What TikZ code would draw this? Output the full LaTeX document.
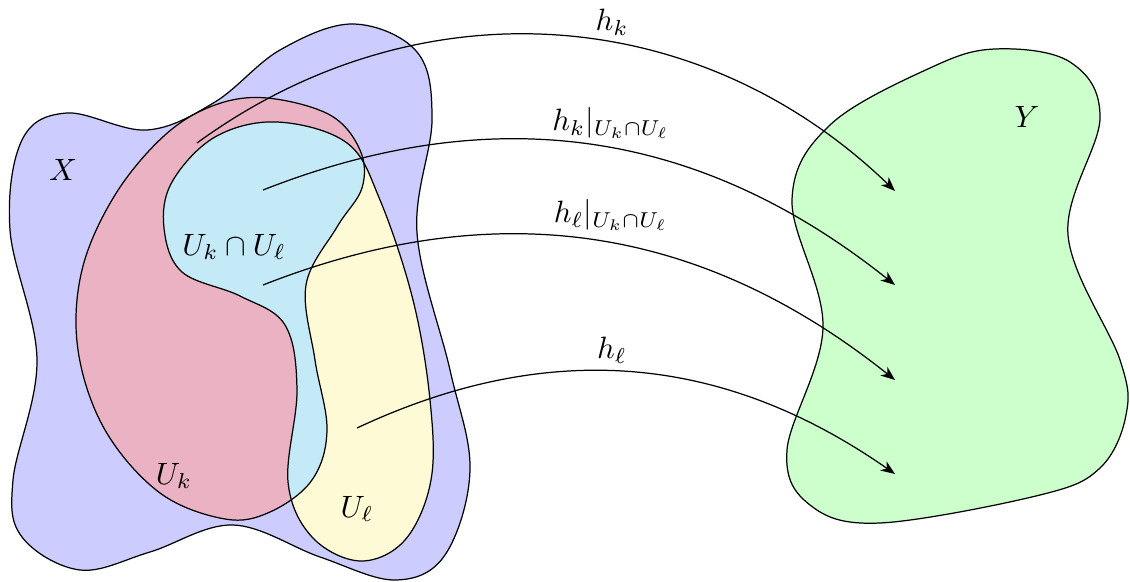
\documentclass[tikz,border=0pt]{standalone}
\usetikzlibrary{arrows.meta}
\definecolor{xblue}{RGB}{204,204,255}
\definecolor{ukpink}{RGB}{235,178,196}
\definecolor{ulyellow}{RGB}{255,250,214}
\definecolor{capcyan}{RGB}{197,234,247}
\definecolor{ygreen}{RGB}{204,255,204}
\begin{document}
\begin{tikzpicture}[x=0.0114cm,y=-0.0114cm,
  outline/.style={draw=black, line width=0.4pt},
  map/.style={-{Stealth[length=4.6pt,width=3.6pt,inset=1.4pt]}, line width=0.4pt},
  Xpath/.style={insert path={plot[smooth cycle, tension=0.6] coordinates {
    (67,113) (147,130) (215,102) (280,50) (353,24) (417,52) (432,120) (417,233) (450,370)
    (470,470) (445,555) (395,580) (320,557) (233,525) (150,552) (80,570) (22,537)
    (13,480) (37,360) (10,230) (22,140)}}},
  Ukpath/.style={insert path={plot[smooth cycle, tension=0.6] coordinates {
    (267,98) (330,115) (360,150) (362,188) (337,227) (306,285) (315,360) (327,430)
    (312,480) (270,512) (225,519) (160,493) (105,430) (78,350) (82,270) (115,195)
    (165,135) (215,105)}}},
  Ulpath/.style={insert path={plot[smooth cycle, tension=0.6] coordinates {
    (277,122) (347,143) (380,200) (413,300) (430,400) (431,480) (405,540) (360,561)
    (312,537) (288,482) (297,390) (285,325) (240,296) (182,272) (164,228) (172,182)
    (215,137)}}},
  Ypath/.style={insert path={plot[smooth cycle, tension=0.6] coordinates {
    (995,49) (1070,62) (1100,118) (1068,235) (1120,360) (1126,415) (1100,468) (1040,495)
    (880,523) (810,505) (787,450) (823,327) (792,200) (830,125) (930,68)}}}]
\useasboundingbox (0,0) rectangle (1130,582);
% X
\path[fill=xblue, outline, Xpath];
% U_k, U_l
\path[fill=ukpink, Ukpath];
\path[fill=ulyellow, Ulpath];
\begin{scope}
  \clip[Ukpath];
  \path[fill=capcyan, Ulpath];
\end{scope}
\path[outline, Ukpath];
\path[outline, Ulpath];
% Y
\path[fill=ygreen, outline, Ypath];
% labels
\node (X) at (63,170) {$X$};
\node (Y) at (1027,117) {$Y$};
\node (Uk) at (174,476) {$U_k$};
\node (Ul) at (357,509) {$U_\ell$};
\node (Ukl) at (234,247) {$U_k\cap U_\ell$};
% maps
\coordinate (s1) at (197,143);
\coordinate (s2) at (263,190);
\coordinate (s3) at (263,285);
\coordinate (s4) at (357,428);
\coordinate (e1) at (895,191);
\coordinate (e2) at (895,285);
\coordinate (e3) at (895,380);
\coordinate (e4) at (895,474);
\draw[map] (s1) to[bend left=40] (e1);
\draw[map] (s2) to[bend left=30] (e2);
\draw[map] (s3) to[bend left=30] (e3);
\draw[map] (s4) to[bend left=30] (e4);
\node (l1) at (612,22) {$h_k$};
\node (l2) at (611,123) {$h_k|_{U_k\cap U_\ell}$};
\node (l3) at (611,215) {$h_\ell|_{U_k\cap U_\ell}$};
\node (l4) at (612,350) {$h_\ell$};
\end{tikzpicture}
\end{document}
